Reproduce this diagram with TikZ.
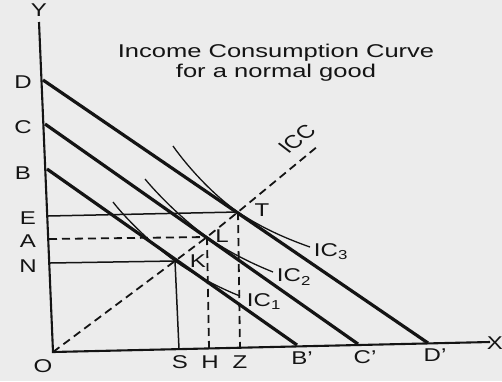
\documentclass[tikz,border=0pt]{standalone}
\usepackage{fontspec}
\setmainfont{Liberation Sans}
\definecolor{bg}{RGB}{236,236,236}
\definecolor{ink}{RGB}{20,20,20}
\tikzset{
  lab/.style={font=\fontsize{18.5}{20}\selectfont, xscale=1.3, inner sep=0pt, text=ink},
  ttl/.style={font=\fontsize{18.5}{20}\selectfont, xscale=1.38, inner sep=0pt, text=ink},
  axisline/.style={line width=2.1pt, draw=ink},
  budget/.style={line width=3.2pt, draw=ink},
  thinline/.style={line width=1.5pt, draw=ink},
  icline/.style={line width=1.3pt, draw=ink},
  dashline/.style={line width=1.8pt, draw=ink, dash pattern=on 8pt off 5pt},
}
\begin{document}
\begin{tikzpicture}[x=1pt,y=-1pt]
\fill[bg] (0,0) rectangle (502,381);
\useasboundingbox (0,0) rectangle (502,381);
% key points
\coordinate (O) at (53,352);
\coordinate (Ytop) at (39,22);
\coordinate (Xend) at (490,342);
\coordinate (D) at (43,80);
\coordinate (C) at (45,124);
\coordinate (B) at (47,169);
\coordinate (Dp) at (428,343);
\coordinate (Cp) at (358,344);
\coordinate (Bp) at (297,345);
\coordinate (T) at (238,212);
\coordinate (L) at (207,237);
\coordinate (K) at (175,261);
\coordinate (Ea) at (48,216);
\coordinate (Aa) at (49,239);
\coordinate (Na) at (50,263);
\coordinate (Sf) at (179,349);
\coordinate (Hf) at (209,348.5);
\coordinate (Zf) at (240,348);
\coordinate (ICCend) at (318,146);
% axes
\draw[axisline] (Ytop) -- (O) -- (Xend);
% budget lines
\draw[budget] (D) -- (Dp);
\draw[budget] (C) -- (Cp);
\draw[budget] (B) -- (Bp);
% guide lines
\draw[thinline] (Ea) -- (T);
\draw[thinline] (Na) -- (K) -- (Sf);
\draw[dashline] (Aa) -- (L);
\draw[dashline] (L) -- (Hf);
\draw[dashline] (T) -- (Zf);
% ICC
\draw[dashline] (O) -- (K) -- (L) -- (T) -- (ICCend);
% indifference curves
\draw[icline] (173,146) .. controls (187,166) and (213,195) .. (T)
  .. controls (263,229) and (290,240) .. (310,247);
\draw[icline] (145,179) .. controls (159,196) and (185,221.5) .. (L)
  .. controls (229,252.5) and (253,264) .. (273,272);
\draw[icline] (113,202) .. controls (126,219) and (154,246) .. (K)
  .. controls (196,276) and (222,289) .. (240,296);
% title
\node[ttl] (title1) at (276,53) {Income Consumption Curve};
\node[ttl] (title2) at (276,73) {for a normal good};
% axis labels
\node[lab] (lY) at (39,10) {Y};
\node[lab] (lX) at (495,343) {X};
\node[lab] (lO) at (43,366) {O};
\node[lab] (lD) at (23,82) {D};
\node[lab] (lC) at (23,127) {C};
\node[lab] (lB) at (23,173) {B};
\node[lab] (lE) at (28,218) {E};
\node[lab] (lA) at (28,241) {A};
\node[lab] (lN) at (28,266) {N};
\node[lab] (lS) at (180,362) {S};
\node[lab] (lH) at (210,362) {H};
\node[lab] (lZ) at (240,362) {Z};
\node[lab] (lBp) at (302,358) {B’};
\node[lab] (lCp) at (365,357) {C’};
\node[lab] (lDp) at (435,355) {D’};
\node[lab] (lT) at (262,210) {T};
\node[lab] (lL) at (222,236) {L};
\node[lab] (lK) at (198,261) {K};
\node[lab, rotate=45] (lICC) at (297,139) {ICC};
\node[lab] (lIC3) at (331,252) {IC\textsubscript{3}};
\node[lab] (lIC2) at (294,277) {IC\textsubscript{2}};
\node[lab] (lIC1) at (264,302) {IC\textsubscript{1}};
\end{tikzpicture}
\end{document}
